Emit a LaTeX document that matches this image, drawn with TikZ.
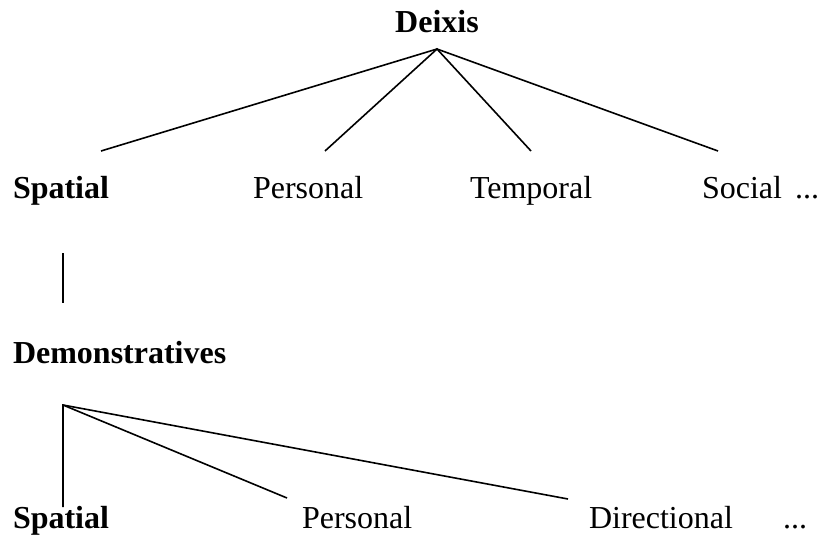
\documentclass[tikz,border=0pt]{standalone}
\usepackage{fontspec}
\setmainfont{Liberation Serif}
\begin{document}
\begin{tikzpicture}[x=1pt,y=-1pt,
  lbl/.style={anchor=base west,inner sep=0pt,outer sep=0pt,font=\fontsize{32}{38}\selectfont},
  blbl/.style={lbl,font=\fontsize{32}{38}\selectfont\bfseries},
  branch/.style={draw=black,line width=1.6pt}]
\useasboundingbox (0,0) rectangle (821,538);
% top level
\node[blbl,anchor=base] (deixis) at (437,32) {Deixis};
\node[blbl] (spatialA) at (13,198) {Spatial};
\node[lbl] (personalA) at (253,198) {Personal};
\node[lbl] (temporal) at (470,198) {Temporal};
\node[lbl] (social) at (702,198) {Social};
\node[lbl] (moreA) at (795,198) {...};
% second level
\node[blbl] (demo) at (13,363) {Demonstratives};
\node[blbl] (spatialB) at (13,528) {Spatial};
\node[lbl] (personalB) at (302,528) {Personal};
\node[lbl] (directional) at (589,528) {Directional};
\node[lbl] (moreB) at (783,528) {...};
% branch points
\coordinate (apexA) at (437,49);
\coordinate (endA1) at (101,151);
\coordinate (endA2) at (325,151);
\coordinate (endA3) at (531,151);
\coordinate (endA4) at (718,151);
\coordinate (linkTop) at (63,253);
\coordinate (linkBot) at (63,303);
\coordinate (apexB) at (63,405);
\coordinate (endB1) at (63,507);
\coordinate (endB2) at (287,498);
\coordinate (endB3) at (568,499);
% branches
\draw[branch] (endA1) -- (apexA) -- (endA4);
\draw[branch] (endA2) -- (apexA) -- (endA3);
\draw[branch] (linkTop) -- (linkBot);
\draw[branch] (endB1) -- (apexB) -- (endB3);
\draw[branch] (apexB) -- (endB2);
\end{tikzpicture}
\end{document}
